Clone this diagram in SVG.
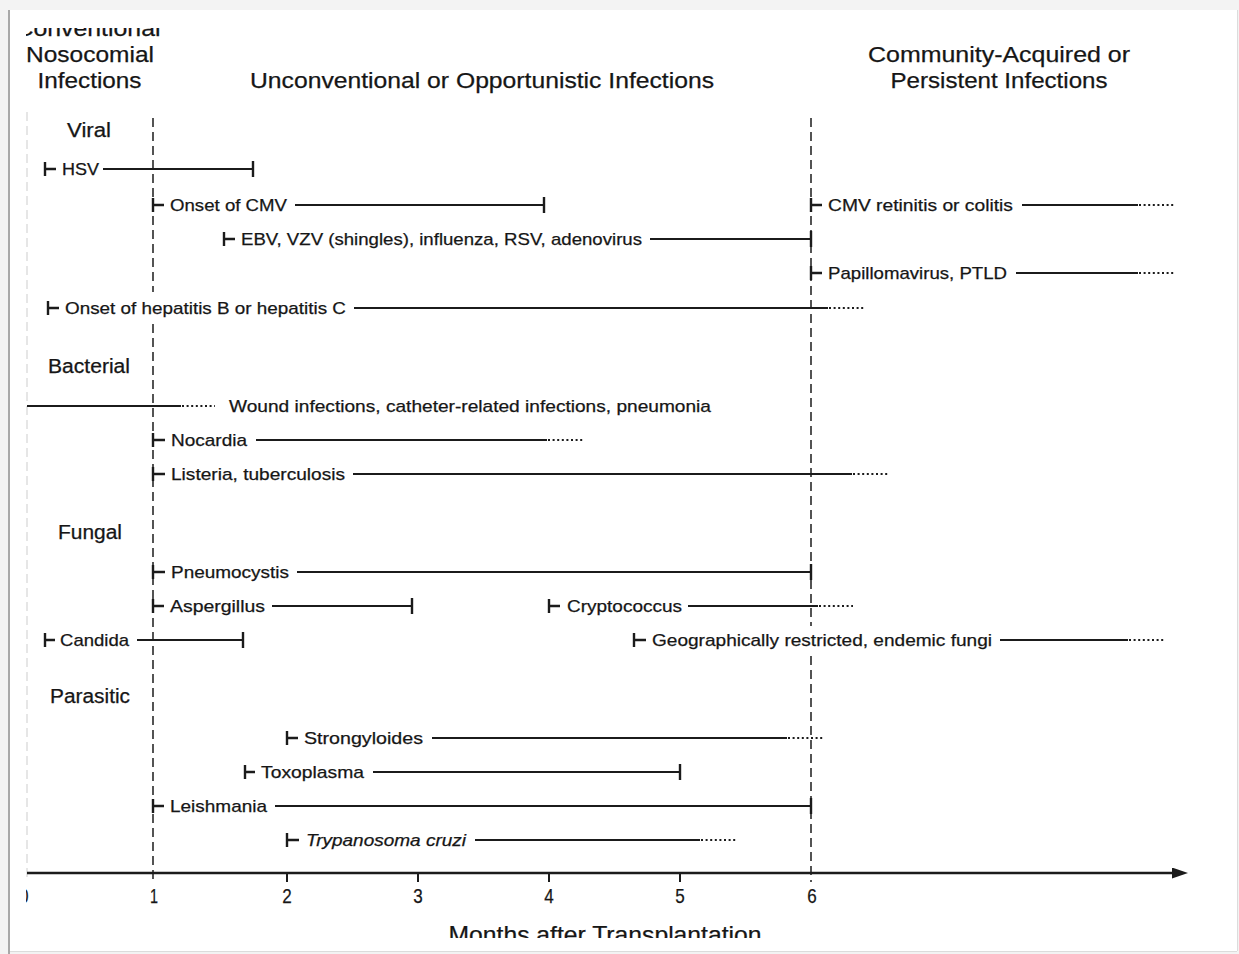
<svg xmlns="http://www.w3.org/2000/svg" width="1239" height="954" viewBox="0 0 1239 954">
<defs>
<style>
text{font-family:"Liberation Sans",Arial,sans-serif;fill:#161616;stroke:#161616;stroke-width:0.25}
.hdr{font-size:22px;text-anchor:middle}
.cat{font-size:19.5px;text-anchor:middle}
.lbl{font-size:17px}
.it{font-style:italic}
.num{font-size:21px;text-anchor:middle}
.ttl{font-size:24px;text-anchor:middle}
.bar{stroke:#1b1b1b;stroke-width:2.2;fill:none}
.st{stroke:#1b1b1b;stroke-width:2.4;fill:none}
.dot{stroke:#1b1b1b;stroke-width:2;stroke-dasharray:2 2.6;fill:none}
.end{stroke:#1b1b1b;stroke-width:2.4}
.vd{stroke:#2a2a2a;stroke-width:1.6;stroke-dasharray:9 5;fill:none}
.vd0{stroke:#d6d6d6;stroke-width:1.2;stroke-dasharray:9 5;fill:none}
.tk{stroke:#1b1b1b;stroke-width:2}
</style>
<clipPath id="clip"><rect x="26" y="28" width="1205" height="910"/></clipPath>
<marker id="arr" markerUnits="userSpaceOnUse" markerWidth="18" markerHeight="12" refX="2" refY="5.5" orient="auto">
<path d="M0,0 L16,5.5 L0,11 z" fill="#1b1b1b"/>
</marker>
</defs>

<rect x="0" y="0" width="1239" height="954" fill="#f3f3f3"/>
<rect x="10" y="10" width="1227" height="941" fill="#ffffff"/>
<line x1="9" y1="10" x2="9" y2="954" stroke="#a8a8a8" stroke-width="2"/>
<line x1="10" y1="951.5" x2="1237" y2="951.5" stroke="#dcdcdc" stroke-width="1"/>
<line x1="1237.5" y1="10" x2="1237.5" y2="951" stroke="#dcdcdc" stroke-width="1"/>

<g clip-path="url(#clip)">
<g id="headers">
<text class="hdr" x="88" y="36" textLength="145" lengthAdjust="spacingAndGlyphs">Conventional</text>
<text class="hdr" x="90" y="62" textLength="128" lengthAdjust="spacingAndGlyphs">Nosocomial</text>
<text class="hdr" x="89.5" y="88" textLength="104" lengthAdjust="spacingAndGlyphs">Infections</text>
<text class="hdr" x="482" y="88" textLength="464" lengthAdjust="spacingAndGlyphs">Unconventional or Opportunistic Infections</text>
<text class="hdr" x="999" y="62" textLength="262" lengthAdjust="spacingAndGlyphs">Community-Acquired or</text>
<text class="hdr" x="999" y="88" textLength="217" lengthAdjust="spacingAndGlyphs">Persistent Infections</text>
</g>

<g id="categories">
<text class="cat" x="89" y="137" textLength="44" lengthAdjust="spacingAndGlyphs">Viral</text>
<text class="cat" x="89" y="373" textLength="82" lengthAdjust="spacingAndGlyphs">Bacterial</text>
<text class="cat" x="90" y="539" textLength="64" lengthAdjust="spacingAndGlyphs">Fungal</text>
<text class="cat" x="90" y="703" textLength="80" lengthAdjust="spacingAndGlyphs">Parasitic</text>
</g>

<g id="connectors">
<line class="vd0" x1="27" y1="112" x2="27" y2="882"/>
<line class="vd" x1="153" y1="118" x2="153" y2="292"/>
<line class="vd" x1="153" y1="324" x2="153" y2="882"/>
<line class="vd" x1="811" y1="118" x2="811" y2="626"/>
<line class="vd" x1="811" y1="656" x2="811" y2="882"/>
<line class="st" x1="27" y1="873" x2="1174" y2="873" marker-end="url(#arr)"/>
<line class="tk" x1="287" y1="873" x2="287" y2="882"/>
<line class="tk" x1="418" y1="873" x2="418" y2="882"/>
<line class="tk" x1="549" y1="873" x2="549" y2="882"/>
<line class="tk" x1="680" y1="873" x2="680" y2="882"/>
</g>

<g id="axis-labels">
<text class="num" x="24" y="903" textLength="9" lengthAdjust="spacingAndGlyphs">0</text>
<text class="num" x="154" y="903" textLength="8" lengthAdjust="spacingAndGlyphs">1</text>
<text class="num" x="287" y="903" textLength="9.5" lengthAdjust="spacingAndGlyphs">2</text>
<text class="num" x="418" y="903" textLength="9.5" lengthAdjust="spacingAndGlyphs">3</text>
<text class="num" x="549" y="903" textLength="9.5" lengthAdjust="spacingAndGlyphs">4</text>
<text class="num" x="680" y="903" textLength="9.5" lengthAdjust="spacingAndGlyphs">5</text>
<text class="num" x="812" y="903" textLength="9.5" lengthAdjust="spacingAndGlyphs">6</text>
<text class="ttl" x="605" y="943" textLength="313" lengthAdjust="spacingAndGlyphs">Months after Transplantation</text>
</g>

<g id="hsv">
<path class="st" d="M45,162 V176 M45,169 H56"/>
<text class="lbl" x="62" y="175" textLength="37" lengthAdjust="spacingAndGlyphs">HSV</text>
<line class="bar" x1="103" y1="169" x2="253" y2="169"/>
<line class="end" x1="253" y1="161" x2="253" y2="177"/>
</g>

<g id="onset-cmv">
<path class="st" d="M153,198 V212 M153,205 H164"/>
<text class="lbl" x="170" y="211" textLength="117" lengthAdjust="spacingAndGlyphs">Onset of CMV</text>
<line class="bar" x1="295" y1="205" x2="544" y2="205"/>
<line class="end" x1="544" y1="197" x2="544" y2="213"/>
</g>

<g id="cmv-retinitis">
<path class="st" d="M811,198 V212 M811,205 H822"/>
<text class="lbl" x="828" y="211" textLength="185" lengthAdjust="spacingAndGlyphs">CMV retinitis or colitis</text>
<line class="bar" x1="1022" y1="205" x2="1138" y2="205"/>
<line class="dot" x1="1139" y1="205" x2="1175" y2="205"/>
</g>

<g id="ebv">
<path class="st" d="M224,232 V246 M224,239 H235"/>
<text class="lbl" x="241" y="245" textLength="401" lengthAdjust="spacingAndGlyphs">EBV, VZV (shingles), influenza, RSV, adenovirus</text>
<line class="bar" x1="650" y1="239" x2="811" y2="239"/>
<line class="end" x1="811" y1="231" x2="811" y2="247"/>
</g>

<g id="papilloma">
<path class="st" d="M811,266 V280 M811,273 H822"/>
<text class="lbl" x="828" y="279" textLength="179" lengthAdjust="spacingAndGlyphs">Papillomavirus, PTLD</text>
<line class="bar" x1="1016" y1="273" x2="1138" y2="273"/>
<line class="dot" x1="1139" y1="273" x2="1175" y2="273"/>
</g>

<g id="hepatitis">
<path class="st" d="M48,301 V315 M48,308 H59"/>
<text class="lbl" x="65" y="314" textLength="281" lengthAdjust="spacingAndGlyphs">Onset of hepatitis B or hepatitis C</text>
<line class="bar" x1="354" y1="308" x2="828" y2="308"/>
<line class="dot" x1="829" y1="308" x2="864" y2="308"/>
</g>

<g id="wound">
<line class="bar" x1="27" y1="406" x2="181" y2="406"/>
<line class="dot" x1="182" y1="406" x2="215" y2="406"/>
<text class="lbl" x="229" y="412" textLength="482" lengthAdjust="spacingAndGlyphs">Wound infections, catheter-related infections, pneumonia</text>
</g>

<g id="nocardia">
<path class="st" d="M153,433 V447 M153,440 H165"/>
<text class="lbl" x="171" y="446" textLength="76" lengthAdjust="spacingAndGlyphs">Nocardia</text>
<line class="bar" x1="256" y1="440" x2="547" y2="440"/>
<line class="dot" x1="548" y1="440" x2="583" y2="440"/>
</g>

<g id="listeria">
<path class="st" d="M153,467 V481 M153,474 H165"/>
<text class="lbl" x="171" y="480" textLength="174" lengthAdjust="spacingAndGlyphs">Listeria, tuberculosis</text>
<line class="bar" x1="353" y1="474" x2="852" y2="474"/>
<line class="dot" x1="853" y1="474" x2="888" y2="474"/>
</g>

<g id="pneumocystis">
<path class="st" d="M153,565 V579 M153,572 H165"/>
<text class="lbl" x="171" y="578" textLength="118" lengthAdjust="spacingAndGlyphs">Pneumocystis</text>
<line class="bar" x1="297" y1="572" x2="811" y2="572"/>
<line class="end" x1="811" y1="564" x2="811" y2="580"/>
</g>

<g id="aspergillus">
<path class="st" d="M153,599 V613 M153,606 H164"/>
<text class="lbl" x="170" y="612" textLength="95" lengthAdjust="spacingAndGlyphs">Aspergillus</text>
<line class="bar" x1="272" y1="606" x2="412" y2="606"/>
<line class="end" x1="412" y1="598" x2="412" y2="614"/>
</g>

<g id="cryptococcus">
<path class="st" d="M549,599 V613 M549,606 H560"/>
<text class="lbl" x="567" y="612" textLength="115" lengthAdjust="spacingAndGlyphs">Cryptococcus</text>
<line class="bar" x1="688" y1="606" x2="818" y2="606"/>
<line class="dot" x1="819" y1="606" x2="853" y2="606"/>
</g>

<g id="candida">
<path class="st" d="M45,633 V647 M45,640 H55"/>
<text class="lbl" x="60" y="646" textLength="69" lengthAdjust="spacingAndGlyphs">Candida</text>
<line class="bar" x1="137" y1="640" x2="243" y2="640"/>
<line class="end" x1="243" y1="632" x2="243" y2="648"/>
</g>

<g id="endemic-fungi">
<path class="st" d="M634,633 V647 M634,640 H646"/>
<text class="lbl" x="652" y="646" textLength="340" lengthAdjust="spacingAndGlyphs">Geographically restricted, endemic fungi</text>
<line class="bar" x1="1000" y1="640" x2="1128" y2="640"/>
<line class="dot" x1="1129" y1="640" x2="1165" y2="640"/>
</g>

<g id="strongyloides">
<path class="st" d="M287,731 V745 M287,738 H298"/>
<text class="lbl" x="304" y="744" textLength="119" lengthAdjust="spacingAndGlyphs">Strongyloides</text>
<line class="bar" x1="432" y1="738" x2="787" y2="738"/>
<line class="dot" x1="788" y1="738" x2="823" y2="738"/>
</g>

<g id="toxoplasma">
<path class="st" d="M245,765 V779 M245,772 H255"/>
<text class="lbl" x="261" y="778" textLength="103" lengthAdjust="spacingAndGlyphs">Toxoplasma</text>
<line class="bar" x1="373" y1="772" x2="680" y2="772"/>
<line class="end" x1="680" y1="764" x2="680" y2="780"/>
</g>

<g id="leishmania">
<path class="st" d="M153,799 V813 M153,806 H164"/>
<text class="lbl" x="170" y="812" textLength="97" lengthAdjust="spacingAndGlyphs">Leishmania</text>
<line class="bar" x1="275" y1="806" x2="811" y2="806"/>
<line class="end" x1="811" y1="798" x2="811" y2="814"/>
</g>

<g id="trypanosoma">
<path class="st" d="M287,833 V847 M287,840 H299"/>
<text class="lbl it" x="306" y="846" textLength="160" lengthAdjust="spacingAndGlyphs">Trypanosoma cruzi</text>
<line class="bar" x1="475" y1="840" x2="700" y2="840"/>
<line class="dot" x1="701" y1="840" x2="736" y2="840"/>
</g>
</g>
</svg>
